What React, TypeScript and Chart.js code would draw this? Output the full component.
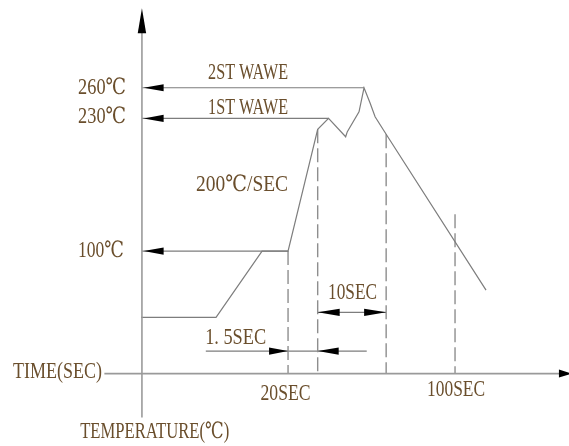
import React, { useEffect, useRef } from "react";
import { Chart, registerables } from "chart.js";

Chart.register(...registerables);

// ---- schematic scale limits (time-like units on x, °C on y) ----
const X_MIN = -118;
const X_MAX = 154.6;
const Y_MIN = -91;
const Y_MAX = 346;

// ---- axes ----
const axisTimeLevel = -20; // where the TIME(SEC) axis sits on the temperature scale
const axisTempPos = -50; // where the TEMPERATURE axis sits on the time scale
const timeAxisStart = -68;
const timeAxisEnd = 156;
const tempAxisBottom = -63;
const tempAxisTop = 338;

// ---- soldering profile ----
const profileTime = [-50.4, -14.5, 7.55, 20, 34.2, 39.4, 47.6, 48.4, 54.0, 56.4, 59.3, 61.7, 67, 114.85];
const profileTemp = [35, 35, 100, 100, 219.3, 230, 212, 217, 236.5, 260, 245, 231.6, 214.5, 61.8];

// ---- reference levels (°C) with the time where each level line ends ----
const levelTemps = [260, 230, 100];
const levelEnds = [56.4, 39.4, 20];
const levelLabels = ["260℃", "230℃", "100℃"];

// ---- dashed time markers: time, top temperature ----
const markerTimes = [20, 34.2, 67, 100];
const markerTops = [100, 219.3, 214.5, 136];

// ---- dimension lines ----
const dim10Level = 40;
const dim10From = 34.2;
const dim10To = 67;
const dim15Level = 2;
const dim15From = -19.4;
const dim15To = 57.7;

// ---- text ----
const waveLabels = ["2ST WAWE", "1ST WAWE"];
const rateLabel = "200℃/SEC";
const timeAxisLabel = "TIME(SEC)";
const tempAxisLabel = "TEMPERATURE(℃)";
const tickLabels = ["20SEC", "100SEC"];
const dimLabels = ["10SEC", "1. 5SEC"];

const LINE = "#7d7d7d";
const AXIS = "#9a9a9a";
const DASH = "#8e8e8e";
const TEXT = "#6a4e2c";
const FONT = '22.5px "Liberation Serif", "DejaVu Serif", serif';

type Pt = { x: number; y: number };
const seg = (a: Pt, b: Pt) => [a, b];

type Arrow = { x: number; y: number; dir: "up" | "down" | "left" | "right"; len: number; hw: number };
type Label = { text: string; x: number; y: number; align: CanvasTextAlign; w: number };

export default function App() {
  const ref = useRef<HTMLCanvasElement | null>(null);

  useEffect(() => {
    if (!ref.current) return;

    const lineDs = (data: Pt[], color: string, width: number, dash: number[] = []) => ({
      data,
      showLine: true,
      borderColor: color,
      borderWidth: width,
      borderDash: dash,
      pointRadius: 0,
      fill: false,
      tension: 0,
      clip: false as any,
    });

    const datasets: any[] = [];
    datasets.push(lineDs(seg({ x: axisTempPos, y: tempAxisBottom }, { x: axisTempPos, y: tempAxisTop - 10 }), AXIS, 1.6));
    datasets.push(lineDs(seg({ x: timeAxisStart, y: axisTimeLevel }, { x: timeAxisEnd - 3, y: axisTimeLevel }), AXIS, 1.8));
    datasets.push(
      lineDs(
        profileTime.map((t, i) => ({ x: t, y: profileTemp[i] })),
        LINE,
        1.2
      )
    );
    levelTemps.forEach((T, i) => {
      datasets.push(lineDs(seg({ x: axisTempPos, y: T }, { x: levelEnds[i], y: T }), LINE, 1.2));
    });
    markerTimes.forEach((t, i) => {
      datasets.push(lineDs(seg({ x: t, y: markerTops[i] }, { x: t, y: axisTimeLevel }), DASH, 1.4, [14, 5]));
    });
    datasets.push(lineDs(seg({ x: dim10From, y: dim10Level }, { x: dim10To, y: dim10Level }), LINE, 1.2));
    datasets.push(lineDs(seg({ x: dim15From, y: dim15Level }, { x: dim15To, y: dim15Level }), LINE, 1.2));

    const arrows: Arrow[] = [
      { x: axisTempPos, y: tempAxisTop, dir: "up", len: 25, hw: 4.2 },
      { x: timeAxisEnd, y: axisTimeLevel, dir: "right", len: 13, hw: 4 },
      ...levelTemps.map((T) => ({ x: axisTempPos + 0.8, y: T, dir: "left" as const, len: 20, hw: 3.6 })),
      { x: dim10From, y: dim10Level, dir: "left", len: 22, hw: 3.6 },
      { x: dim10To, y: dim10Level, dir: "right", len: 22, hw: 3.6 },
      { x: markerTimes[0], y: dim15Level, dir: "right", len: 19, hw: 3.6 },
      { x: markerTimes[1], y: dim15Level, dir: "left", len: 21, hw: 3.6 },
    ];

    const labels: Label[] = [
      { text: levelLabels[0], x: -57.6, y: 260, align: "right", w: 48 },
      { text: levelLabels[1], x: -57.6, y: 231, align: "right", w: 48 },
      { text: levelLabels[2], x: -58.6, y: 100, align: "right", w: 46 },
      { text: waveLabels[0], x: 20, y: 274.4, align: "right", w: 80 },
      { text: waveLabels[1], x: 20, y: 240.1, align: "right", w: 80 },
      { text: rateLabel, x: 20, y: 164.7, align: "right", w: 92 },
      { text: timeAxisLabel, x: -69.1, y: -18.5, align: "right", w: 89 },
      { text: tempAxisLabel, x: -43.9, y: -77.3, align: "center", w: 149 },
      { text: tickLabels[0], x: 18.8, y: -40, align: "center", w: 50 },
      { text: tickLabels[1], x: 100.5, y: -36.1, align: "center", w: 58 },
      { text: dimLabels[0], x: 50.9, y: 58.9, align: "center", w: 49 },
      { text: dimLabels[1], x: -5.1, y: 14.8, align: "center", w: 61 },
    ];

    const drawPlugin = {
      id: "drawing",
      afterDatasetsDraw(chart: any) {
        const ctx: CanvasRenderingContext2D = chart.ctx;
        const xs = chart.scales.x;
        const ys = chart.scales.y;
        ctx.save();
        ctx.fillStyle = "#000";
        arrows.forEach((a) => {
          const px = xs.getPixelForValue(a.x);
          const py = ys.getPixelForValue(a.y);
          ctx.beginPath();
          if (a.dir === "up") {
            ctx.moveTo(px, py);
            ctx.lineTo(px - a.hw, py + a.len);
            ctx.lineTo(px + a.hw, py + a.len);
          } else if (a.dir === "down") {
            ctx.moveTo(px, py);
            ctx.lineTo(px - a.hw, py - a.len);
            ctx.lineTo(px + a.hw, py - a.len);
          } else if (a.dir === "left") {
            ctx.moveTo(px, py);
            ctx.lineTo(px + a.len, py - a.hw);
            ctx.lineTo(px + a.len, py + a.hw);
          } else {
            ctx.moveTo(px, py);
            ctx.lineTo(px - a.len, py - a.hw);
            ctx.lineTo(px - a.len, py + a.hw);
          }
          ctx.closePath();
          ctx.fill();
        });
        ctx.font = FONT;
        ctx.fillStyle = TEXT;
        ctx.textBaseline = "middle";
        labels.forEach((l) => {
          const px = xs.getPixelForValue(l.x);
          const py = ys.getPixelForValue(l.y);
          const natural = ctx.measureText(l.text).width;
          const k = natural > 0 ? l.w / natural : 1;
          ctx.save();
          ctx.translate(px, py);
          ctx.scale(k, 1);
          ctx.textAlign = l.align;
          ctx.fillText(l.text, 0, 0);
          ctx.restore();
        });
        ctx.restore();
      },
    };

    const chart = new Chart(ref.current, {
      type: "scatter",
      data: { datasets },
      options: {
        animation: false,
        responsive: true,
        maintainAspectRatio: false,
        events: [],
        layout: { padding: 0 },
        plugins: { legend: { display: false }, tooltip: { enabled: false } },
        scales: {
          x: { type: "linear", min: X_MIN, max: X_MAX, display: false },
          y: { type: "linear", min: Y_MIN, max: Y_MAX, display: false },
        },
      },
      plugins: [drawPlugin],
    });
    return () => chart.destroy();
  }, []);

  return (
    <div style={{ position: "fixed", left: 0, top: 0, width: 569, height: 446, background: "#fff" }}>
      <canvas ref={ref} />
    </div>
  );
}
